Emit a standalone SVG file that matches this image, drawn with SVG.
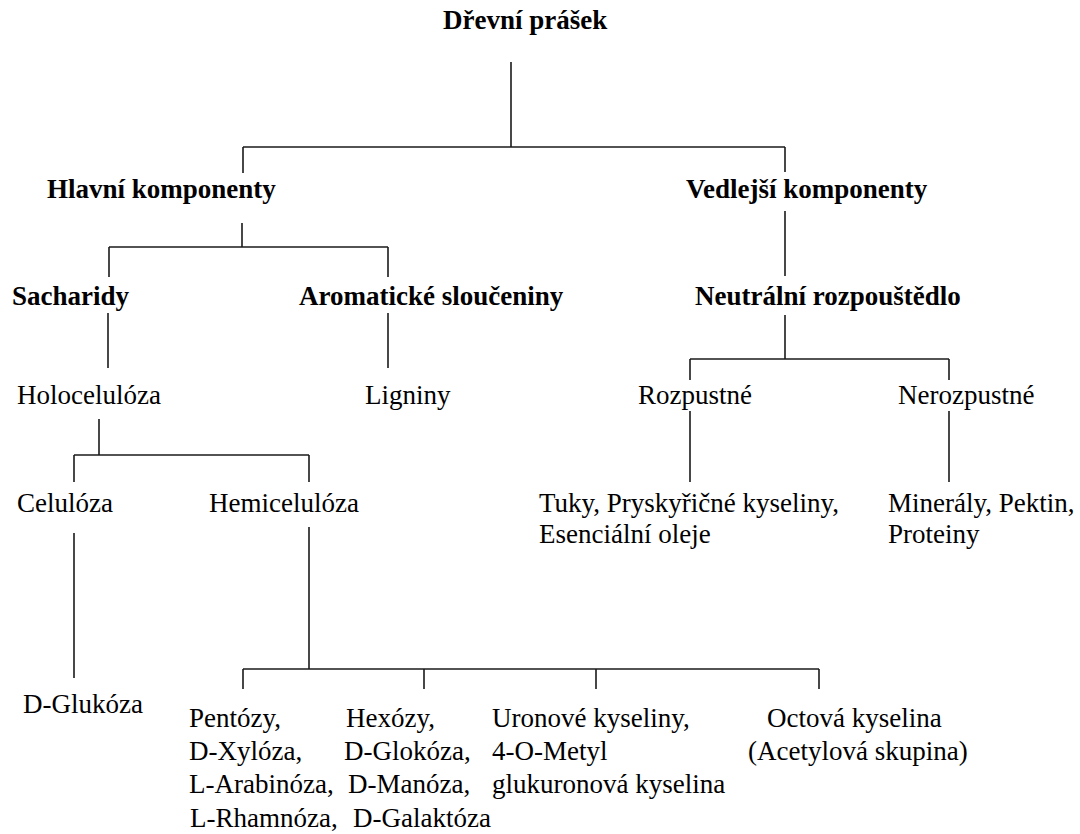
<svg xmlns="http://www.w3.org/2000/svg" width="1080" height="834" viewBox="0 0 1080 834">
<style>
text{font-family:"Liberation Serif","Times New Roman",serif;font-size:27px;fill:#000}
.b{font-weight:bold}
.c line{stroke:#1a1a1a;stroke-width:1.6;fill:none}
</style>
<rect width="1080" height="834" fill="#fff"/>
<g class="c" id="connectors">
<line x1="511" y1="62" x2="511" y2="147"/>
<line x1="243" y1="147" x2="785" y2="147"/>
<line x1="243" y1="147" x2="243" y2="173"/>
<line x1="785" y1="147" x2="785" y2="172"/>
<line x1="242" y1="223" x2="242" y2="247"/>
<line x1="109" y1="247" x2="388" y2="247"/>
<line x1="109" y1="247" x2="109" y2="277"/>
<line x1="388" y1="247" x2="388" y2="277"/>
<line x1="785" y1="211" x2="785" y2="276"/>
<line x1="108" y1="313" x2="108" y2="368"/>
<line x1="388" y1="313" x2="388" y2="368"/>
<line x1="785" y1="315" x2="785" y2="359"/>
<line x1="690" y1="359" x2="949" y2="359"/>
<line x1="690" y1="359" x2="690" y2="380"/>
<line x1="949" y1="359" x2="949" y2="380"/>
<line x1="690" y1="411" x2="690" y2="482"/>
<line x1="949" y1="411" x2="949" y2="482"/>
<line x1="99" y1="419" x2="99" y2="455"/>
<line x1="74" y1="455" x2="309" y2="455"/>
<line x1="74" y1="455" x2="74" y2="482"/>
<line x1="309" y1="455" x2="309" y2="482"/>
<line x1="74" y1="533" x2="74" y2="678"/>
<line x1="309" y1="527" x2="309" y2="669"/>
<line x1="243" y1="669" x2="819" y2="669"/>
<line x1="243" y1="669" x2="243" y2="689"/>
<line x1="424" y1="669" x2="424" y2="689"/>
<line x1="596" y1="669" x2="596" y2="689"/>
<line x1="819" y1="669" x2="819" y2="689"/>
</g>
<g id="n-root"><text class="b" x="443" y="29">Dřevní prášek</text></g>
<g id="n-hlavni"><text class="b" x="47" y="198">Hlavní komponenty</text></g>
<g id="n-vedlejsi"><text class="b" x="686" y="198">Vedlejší komponenty</text></g>
<g id="n-sacharidy"><text class="b" x="12" y="305">Sacharidy</text></g>
<g id="n-aromaticke"><text class="b" x="299" y="305">Aromatické sloučeniny</text></g>
<g id="n-neutralni"><text class="b" x="695" y="305">Neutrální rozpouštědlo</text></g>
<g id="n-holo"><text x="17" y="404">Holocelulóza</text></g>
<g id="n-ligniny"><text x="365" y="404">Ligniny</text></g>
<g id="n-rozpustne"><text x="638" y="404">Rozpustné</text></g>
<g id="n-nerozpustne"><text x="898" y="404">Nerozpustné</text></g>
<g id="n-celuloza"><text x="17" y="512">Celulóza</text></g>
<g id="n-hemi"><text x="209" y="512">Hemicelulóza</text></g>
<g id="n-tuky"><text x="539" y="512">Tuky, Pryskyřičné kyseliny,</text><text x="539" y="543">Esenciální oleje</text></g>
<g id="n-mineraly"><text x="888" y="512">Minerály, Pektin,</text><text x="888" y="543">Proteiny</text></g>
<g id="n-glukoza"><text x="23" y="713">D-Glukóza</text></g>
<g id="n-pentozy"><text x="189" y="727">Pentózy,</text><text x="189" y="760">D-Xylóza,</text><text x="189" y="793">L-Arabinóza,</text><text x="190" y="827">L-Rhamnóza,</text></g>
<g id="n-hexozy"><text x="346" y="727">Hexózy,</text><text x="344" y="760">D-Glokóza,</text><text x="348" y="793">D-Manóza,</text><text x="353" y="827">D-Galaktóza</text></g>
<g id="n-uronove"><text x="492" y="727">Uronové kyseliny,</text><text x="492" y="760">4-O-Metyl</text><text x="492" y="793">glukuronová kyselina</text></g>
<g id="n-octova"><text x="767" y="727">Octová kyselina</text><text x="748" y="760">(Acetylová skupina)</text></g>
</svg>
